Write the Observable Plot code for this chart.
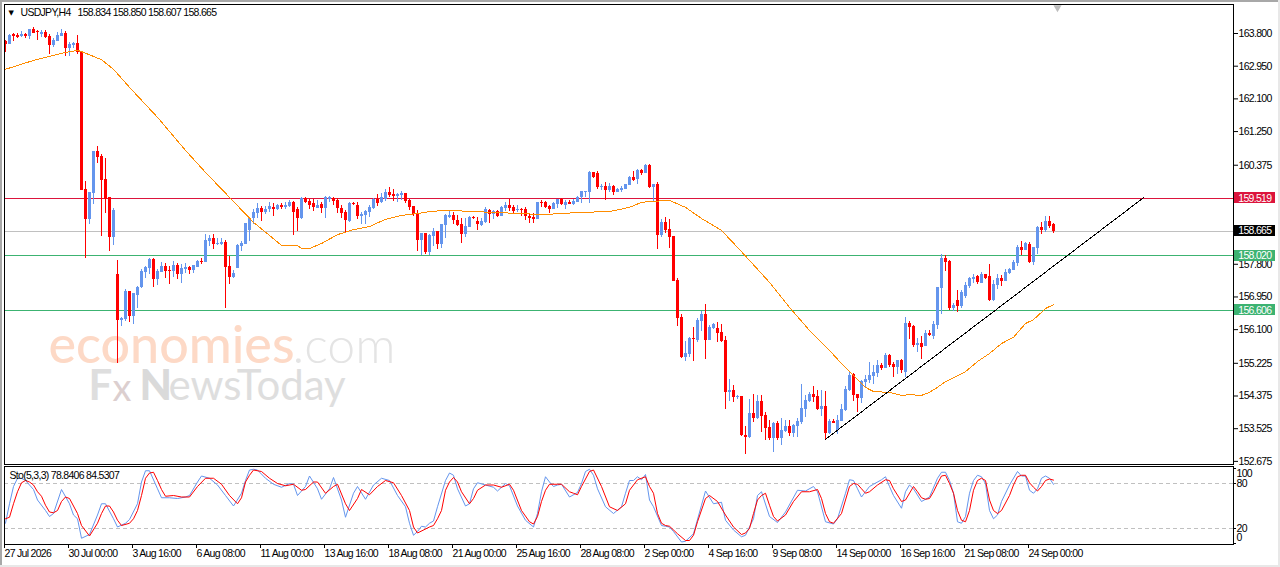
<!DOCTYPE html>
<html>
<head>
<meta charset="utf-8">
<script src="https://cdn.jsdelivr.net/npm/d3@7"></script>
<script src="https://cdn.jsdelivr.net/npm/@observablehq/plot@0.6"></script>
<style>
html,body{margin:0;padding:0;background:#fff;overflow:hidden}
#chart{position:relative;width:1280px;height:567px;background:#fff;overflow:hidden}
#chart svg{position:absolute;left:0;background:transparent;font-family:"Liberation Sans",sans-serif;font-size:10.5px;letter-spacing:-0.7px;color:#000}
#edgeL{position:absolute;left:0;top:0;width:2px;height:567px;background:#a8a8a8}
#edgeT{position:absolute;left:0;top:0;width:1280px;height:2px;background:#a8a8a8}
#edgeB{position:absolute;left:0;top:565px;width:1280px;height:2px;background:#e8e8e8}
#edgeR{position:absolute;left:1278px;top:0;width:2px;height:567px;background:#e8e8e8}
</style>
</head>
<body>
<div id="chart"><div id="edgeL"></div><div id="edgeT"></div><div id="edgeB"></div><div id="edgeR"></div></div>
<script>
const opens = [
163.59,163.51,163.77,163.75,163.72,163.77,163.72,163.90,163.85,163.77,
163.83,163.72,163.49,163.59,163.72,163.80,163.41,163.49,163.54,163.31,
159.75,158.97,159.64,160.73,160.60,160.00,159.54,158.50,157.53,156.34,
156.36,157.09,156.44,156.99,157.20,157.59,157.69,157.92,157.40,157.59,
157.74,157.64,157.61,157.77,157.53,157.66,157.72,157.64,157.72,157.87,
157.85,158.39,158.47,158.31,158.31,158.37,157.74,157.46,157.69,158.26,
158.31,158.68,158.99,159.12,159.25,159.15,159.23,159.28,159.23,159.33,
159.28,159.30,159.41,159.23,158.99,159.51,159.43,159.38,159.25,159.36,
159.25,159.48,159.51,159.46,159.25,159.15,158.91,159.38,159.33,159.04,
159.07,159.15,159.25,159.48,159.41,159.48,159.67,159.61,159.56,159.59,
159.64,159.46,159.30,159.09,158.42,158.60,158.11,158.52,158.65,158.31,
158.81,159.02,159.07,158.94,158.84,158.57,158.76,159.02,158.91,158.81,
158.89,159.20,159.09,159.17,159.04,159.25,159.33,159.28,159.20,159.23,
159.23,159.04,159.02,158.97,159.41,159.41,159.30,159.23,159.36,159.48,
159.33,159.41,159.36,159.41,159.54,159.67,159.67,160.18,160.16,159.80,
159.82,159.72,159.82,159.67,159.72,159.75,159.85,160.05,160.00,160.24,
160.16,160.37,159.80,159.87,158.55,158.89,158.71,158.52,157.38,156.42,
155.38,155.46,155.87,155.82,156.31,156.49,155.82,156.13,156.13,156.03,
155.82,154.47,154.52,154.34,154.36,153.35,153.30,153.92,153.79,154.23,
153.87,153.56,153.27,153.66,153.27,153.45,153.58,153.40,153.58,153.69,
154.02,154.23,154.41,154.36,154.02,154.10,153.40,153.71,153.48,153.71,
154.00,154.52,154.93,154.41,154.31,154.73,154.78,154.88,154.96,155.17,
155.09,155.43,155.19,155.12,155.30,154.99,156.26,156.18,155.69,155.74,
155.66,156.00,155.92,156.21,157.17,157.95,157.87,156.65,156.86,156.70,
156.96,157.22,157.40,157.48,157.30,157.53,157.48,156.86,157.25,157.43,
157.35,157.56,157.64,157.82,158.24,158.16,158.31,157.85,158.21,158.76,
158.68,158.91,158.834];
const highs = [
163.62,163.77,163.80,163.80,163.85,163.80,163.90,163.96,163.88,163.88,
163.88,163.77,163.67,163.83,163.90,163.85,163.57,163.57,163.75,163.33,
159.95,159.67,160.73,160.86,160.65,160.55,159.54,159.25,157.90,156.42,
157.14,157.09,157.04,157.22,157.66,157.74,157.95,157.95,157.66,157.85,
157.82,157.74,157.87,157.82,157.79,157.82,157.74,157.77,157.90,157.95,
158.57,158.55,158.57,158.47,158.47,158.42,158.00,157.64,158.31,158.39,
158.86,159.02,159.23,159.38,159.30,159.30,159.41,159.38,159.36,159.38,
159.41,159.46,159.43,159.28,159.54,159.54,159.48,159.48,159.46,159.41,
159.56,159.56,159.54,159.51,159.33,159.20,159.41,159.41,159.41,159.15,
159.20,159.33,159.51,159.61,159.64,159.75,159.80,159.75,159.64,159.69,
159.64,159.48,159.30,159.20,158.60,158.60,158.57,158.73,158.65,158.84,
159.09,159.17,159.15,159.07,158.99,158.99,159.04,159.04,159.02,158.99,
159.28,159.23,159.20,159.20,159.30,159.41,159.48,159.33,159.33,159.25,
159.28,159.09,159.12,159.41,159.46,159.43,159.33,159.41,159.48,159.51,
159.46,159.46,159.48,159.56,159.69,159.69,160.21,160.18,160.21,159.87,
159.93,159.90,159.85,159.77,159.82,159.87,160.08,160.21,160.26,160.26,
160.39,160.39,159.87,159.93,158.97,159.02,158.97,158.52,157.43,156.49,
155.79,155.90,156.16,156.39,156.57,156.75,156.21,156.26,156.29,156.23,
155.92,154.81,154.65,154.39,154.36,153.58,154.29,154.41,154.39,154.39,
153.95,153.74,153.69,153.71,153.79,153.74,153.74,153.64,153.79,154.67,
154.39,154.47,154.62,154.52,154.52,154.49,153.77,153.77,153.87,154.15,
154.62,155.01,154.96,154.41,154.78,154.91,155.25,155.17,155.30,155.22,
155.48,155.46,155.25,155.30,155.33,156.42,156.31,156.21,155.87,155.92,
156.08,156.08,156.31,157.20,158.05,158.03,157.90,156.78,157.12,157.12,
157.33,157.46,157.53,157.51,157.59,157.53,157.79,157.38,157.53,157.51,
157.66,157.69,157.90,158.29,158.39,158.37,158.37,158.24,158.78,158.89,
159.04,159.04,158.85];
const lows = [
163.31,163.51,163.59,163.67,163.70,163.67,163.64,163.80,163.62,163.70,
163.67,163.25,163.44,163.59,163.72,163.20,163.20,163.41,163.25,159.72,
157.95,158.84,159.36,160.42,158.52,159.12,158.13,158.29,155.22,156.18,
156.31,156.29,156.23,156.65,157.17,157.43,157.53,157.20,157.25,157.59,
157.43,157.27,157.46,157.40,157.30,157.56,157.53,157.56,157.72,157.79,
157.85,158.26,158.19,158.29,158.29,156.65,157.27,157.43,157.69,158.13,
158.31,158.39,158.84,158.99,158.91,159.09,159.15,159.04,159.20,159.23,
159.23,159.28,158.55,158.65,158.97,159.38,159.23,159.17,159.25,159.12,
158.99,159.41,159.33,159.12,158.99,158.60,158.89,159.33,158.97,158.84,
158.84,159.02,159.23,159.30,159.38,159.43,159.54,159.43,159.41,159.46,
159.38,159.20,159.04,158.13,158.03,158.05,158.03,158.26,158.19,158.21,
158.47,158.99,158.84,158.78,158.34,158.50,158.76,158.97,158.68,158.78,
158.86,158.86,158.97,159.02,159.04,159.17,159.17,159.12,159.15,159.04,
158.94,158.86,158.86,158.97,159.28,159.25,159.12,159.23,159.25,159.33,
159.23,159.36,159.33,159.41,159.38,159.54,159.38,160.03,159.75,159.72,
159.46,159.67,159.59,159.67,159.67,159.75,159.85,159.95,159.87,160.11,
160.16,159.77,159.41,158.19,158.50,158.60,158.21,157.35,156.18,155.35,
155.27,155.38,155.27,155.77,156.05,155.33,155.82,156.10,155.77,155.77,
154.02,154.23,154.21,154.29,153.32,152.86,153.27,153.69,153.77,153.43,
153.22,153.22,152.91,153.22,153.09,153.43,153.32,153.30,153.30,153.64,
153.82,154.21,154.21,154.00,153.84,153.24,153.37,153.66,153.37,153.71,
153.97,154.49,154.23,153.95,154.18,154.60,154.70,154.67,154.86,155.04,
155.09,155.12,154.86,154.93,154.96,154.86,155.84,155.64,155.51,155.33,
155.66,155.92,155.84,156.10,156.49,157.61,156.60,156.57,156.55,156.65,
156.91,157.17,157.30,157.27,157.30,157.40,156.83,156.83,157.14,157.22,
157.35,157.53,157.64,157.74,158.03,158.16,157.82,157.77,158.05,158.57,
158.63,158.73,158.607];
const closes = [
163.51,163.75,163.72,163.70,163.77,163.72,163.90,163.80,163.83,163.83,
163.70,163.49,163.62,163.75,163.80,163.41,163.51,163.54,163.31,159.72,
158.97,159.67,160.73,160.58,159.98,159.48,158.50,159.20,156.34,156.39,
157.09,156.44,157.04,157.20,157.61,157.72,157.92,157.40,157.61,157.74,
157.61,157.61,157.77,157.53,157.69,157.72,157.64,157.77,157.87,157.85,
158.42,158.47,158.31,158.34,158.37,157.72,157.46,157.56,158.29,158.34,
158.86,158.99,159.15,159.25,159.15,159.23,159.30,159.23,159.33,159.28,
159.33,159.41,159.15,158.99,159.51,159.41,159.33,159.28,159.33,159.25,
159.54,159.54,159.43,159.25,159.12,158.94,159.38,159.36,159.04,159.09,
159.17,159.28,159.48,159.38,159.54,159.67,159.59,159.56,159.61,159.64,
159.43,159.28,159.09,158.42,158.60,158.11,158.55,158.65,158.31,158.84,
159.07,159.07,158.94,158.81,158.57,158.78,159.02,158.99,158.84,158.91,
159.23,159.09,159.17,159.04,159.28,159.33,159.25,159.17,159.23,159.20,
159.04,158.99,158.97,159.41,159.38,159.28,159.23,159.38,159.48,159.36,
159.41,159.36,159.43,159.54,159.69,159.69,160.18,160.05,159.80,159.82,
159.72,159.82,159.67,159.75,159.77,159.87,160.05,159.98,160.24,160.16,
160.37,159.80,159.87,158.55,158.89,158.68,158.50,157.35,156.39,155.38,
155.48,155.87,155.84,156.34,156.49,155.82,156.16,156.23,156.00,155.79,
154.47,154.52,154.34,154.36,153.35,153.30,153.92,153.79,154.23,153.84,
153.53,153.27,153.66,153.27,153.48,153.58,153.40,153.61,153.71,154.05,
154.26,154.41,154.34,154.02,154.10,153.40,153.71,153.66,153.74,154.02,
154.55,154.91,154.39,154.31,154.75,154.81,154.91,154.99,155.17,155.09,
155.43,155.17,155.12,155.30,155.04,156.26,156.16,155.69,155.74,155.64,
156.00,155.95,156.23,157.20,157.95,157.85,156.65,156.73,156.70,157.07,
157.25,157.43,157.46,157.33,157.53,157.43,156.86,157.27,157.43,157.35,
157.59,157.66,157.85,158.24,158.16,158.34,157.85,158.24,158.76,158.68,
158.91,158.78,158.665];

const maBars = [0,7,15,18,19,24,27,31,38,45,50,56,62,66,69,73,74,76,79,83,87,91,95,99,103,106,110,118,121,129,134,144,151,156,159,161,166,170,174,179,183,186,191,196,201,206,209,212,215,217,221,224,226,229,231,233,235,240,243,246,249,252,255,257,259,260,262];
const maValues = [162.87,163.10,163.31,163.36,163.33,163.12,162.87,162.40,161.62,160.76,160.19,159.54,158.89,158.55,158.29,158.29,158.21,158.21,158.34,158.57,158.70,158.78,158.97,159.07,159.12,159.17,159.20,159.17,159.15,159.12,159.09,159.15,159.17,159.28,159.41,159.43,159.46,159.28,158.99,158.68,158.24,157.90,157.33,156.68,156.08,155.56,155.22,154.91,154.60,154.49,154.47,154.39,154.41,154.39,154.47,154.60,154.75,155.01,155.27,155.48,155.74,155.90,156.26,156.36,156.55,156.65,156.75];

const kBars = [0,1,2,3,4,5,7,8,10,11,12,14,16,17,18,19,21,23,24,25,27,28,30,31,33,34,35,36,38,39,41,43,45,46,48,49,51,53,55,57,59,60,61,62,63,65,67,69,71,72,73,75,76,78,79,81,82,84,85,87,88,90,92,94,96,98,100,101,102,103,104,105,106,
107,108,110,111,112,113,115,116,117,118,120,122,123,125,126,128,130,132,133,134,135,136,137,138,139,141,143,144,145,146,147,148,150,152,154,155,156,157,158,159,160,161,162,164,165,166,167,169,170,172,174,175,177,179,180,182,184,185,187,188,189,191,193,195,198,200,202,203,205,207,208,210,211,
212,213,214,215,216,217,219,220,221,222,224,225,226,227,229,231,233,234,235,236,237,238,239,240,241,242,243,244,245,246,247,248,249,251,253,254,255,256,257,258,259,260,261,262];
const kValues = [27,53,76,87,87,84,72,58,44,36,40,72,53,38,33,7,12,38,53,53,33,22,27,32,53,82,97,97,73,61,61,60,62,64,82,90,87,78,64,50,67,84,98,99,98,87,79,75,80,79,64,76,90,73,59,73,88,58,35,67,76,59,78,87,84,64,49,27,11,16,23,22,27,
30,49,84,94,91,73,50,53,73,81,78,75,70,80,77,50,31,22,40,69,89,82,76,78,79,62,68,80,96,99,91,73,49,40,49,67,84,84,89,85,92,58,49,24,23,22,16,2,3,13,51,70,53,55,31,18,9,11,33,64,69,36,28,42,71,70,76,69,29,26,33,67,85,
84,73,62,69,76,79,85,89,76,64,47,69,78,73,56,62,87,95,95,84,67,29,27,36,67,84,91,89,80,44,33,38,56,78,96,90,90,71,67,73,87,90,87,78.84];

const dBars = [0,1,2,3,4,5,6,7,8,9,10,11,12,13,14,15,16,18,19,21,23,24,25,26,27,28,29,31,32,33,34,35,36,37,38,39,40,42,44,46,48,50,52,54,56,58,59,60,61,62,64,66,68,70,72,74,75,77,78,80,82,83,85,86,88,89,91,93,95,97,99,101,102,103,106,
107,108,109,110,111,112,113,114,116,117,118,120,122,124,126,127,129,131,132,133,134,135,136,138,139,141,142,143,144,146,147,149,151,153,155,156,158,160,161,162,163,164,165,166,168,170,171,172,173,175,176,178,180,182,184,185,186,187,188,189,190,191,192,193,195,197,199,201,203,204,205,206,207,209,210,211,
212,213,214,215,216,218,220,221,222,224,225,227,228,229,230,231,232,233,234,235,236,237,238,239,240,241,242,243,244,245,246,247,248,249,251,252,253,254,255,256,257,258,259,260,261,262];
const dValues = [33,35,53,69,81,84,82,78,69,63,51,42,41,44,56,62,60,40,24,10,27,40,50,50,42,31,24,27,33,44,64,87,94,95,84,72,63,64,62,62,76,87,87,79,64,53,61,82,91,98,96,87,80,77,79,71,72,82,82,67,76,79,53,44,60,72,65,76,84,81,64,44,22,14,22,
24,33,44,71,82,88,82,69,53,60,71,78,78,75,79,71,44,29,26,36,56,71,79,79,79,69,67,65,76,96,98,76,49,44,53,71,85,89,76,67,40,27,24,23,13,4,4,11,29,60,64,56,38,22,12,14,20,40,58,64,67,51,36,30,38,56,69,69,72,60,40,29,27,40,58,76,
80,79,73,67,69,78,85,84,73,56,58,76,69,61,59,60,69,80,90,91,80,67,44,31,29,44,71,84,87,84,58,44,40,44,64,78,89,91,91,81,75,70,76,84,86,84.53];

const priceTicks = [163.8,162.95,162.1,161.25,160.375,157.8,156.95,156.1,155.225,154.375,153.525,152.675];
const tickBars = [0,16,32,48,64,80,96,112,128,144,160,176,192,208,224,240,256];
const tickLabels = ["27 Jul 2026","30 Jul 00:00","3 Aug 16:00","6 Aug 08:00","11 Aug 00:00","13 Aug 16:00","18 Aug 08:00","21 Aug 00:00","25 Aug 16:00","28 Aug 08:00","2 Sep 00:00","4 Sep 16:00","9 Sep 08:00","14 Sep 00:00","16 Sep 16:00","21 Sep 08:00","24 Sep 00:00"];
const levelPrices = [159.519,158.665,158.02,156.606];
const levelColors = ["#dc143c","#c0c0c0","#3cb371","#3cb371"];
const tagFills = ["#dc143c","#000000","#3cb371","#3cb371"];
const trendBars = [205,284.5];
const trendPrices = [153.25,159.53];
const stochLevels = [80,20];
const stochTicks = [100,80,20,0];

const bars = opens.map((o,i)=>({i,o,h:highs[i],l:lows[i],c:closes[i],col:closes[i]>=o?"#6495ed":"#ff0000"}));
const ma = maBars.map((i,k)=>({i,v:maValues[k]}));
const kLine = kBars.map((i,k)=>({i,v:kValues[k]}));
const dLine = dBars.map((i,k)=>({i,v:dValues[k]}));
const levels = levelPrices.map((p,k)=>({p,col:levelColors[k],fill:tagFills[k],txt:p.toFixed(3)}));
const trend = trendBars.map((i,k)=>({i,v:trendPrices[k]}));
const tagHalf = 0.14;
const xDomain = [-0.25,307];
const crisp = "crispEdges";

const main = Plot.plot({
  width:1280,height:465,marginLeft:4,marginRight:47,marginTop:4,marginBottom:1,
  x:{domain:xDomain,axis:null},
  y:{domain:[152.594,164.554],axis:null},
  style:{background:"transparent",overflow:"visible"},
  marks:[
    Plot.text(["economies"],{frameAnchor:"top-left",dx:44,dy:342,textAnchor:"start",fill:"#fdd9c6",fontFamily:"Lato",fontSize:52,fontWeight:500,lineAnchor:"middle"}),
    Plot.text([".com"],{frameAnchor:"top-left",dx:288,dy:342,textAnchor:"start",fill:"#e4e4e4",fontFamily:"Lato",fontSize:50,fontWeight:300,lineAnchor:"middle"}),
    Plot.text(["F"],{frameAnchor:"top-left",dx:84,dy:382,textAnchor:"start",fill:"#dedede",fontFamily:"Lato",fontSize:42,fontWeight:700,lineAnchor:"middle"}),
    Plot.text(["x"],{frameAnchor:"top-left",dx:108,dy:384,textAnchor:"start",fill:"#dccfcf",fontFamily:"Lato",fontSize:38,fontWeight:400,lineAnchor:"middle"}),
    Plot.text(["N"],{frameAnchor:"top-left",dx:135,dy:382,textAnchor:"start",fill:"#dadada",fontFamily:"Lato",fontSize:42,fontWeight:900,lineAnchor:"middle"}),
    Plot.text(["ewsToday"],{frameAnchor:"top-left",dx:164,dy:382,textAnchor:"start",fill:"#dedede",fontFamily:"Lato",fontSize:42,fontWeight:400,lineAnchor:"middle"}),
    Plot.ruleY(levels,{y:"p",stroke:"col",strokeWidth:1,shapeRendering:crisp}),
    Plot.ruleX(bars,{x:"i",y1:"l",y2:"h",stroke:"col",strokeWidth:1,shapeRendering:crisp}),
    Plot.ruleX(bars,{x:"i",y1:"o",y2:"c",stroke:"col",strokeWidth:3,shapeRendering:crisp}),
    Plot.line(ma,{x:"i",y:"v",stroke:"#ff8c00",strokeWidth:1,shapeRendering:crisp}),
    Plot.line(trend,{x:"i",y:"v",stroke:"#000",strokeWidth:1,shapeRendering:crisp}),
    Plot.frame({stroke:"#000"}),
    Plot.axisY({anchor:"right",ticks:priceTicks,tickFormat:d=>d.toFixed(3),tickSize:4,tickPadding:1,fontSize:10.5,label:null,textAnchor:"start"}),
    Plot.rect(levels,{x1:()=>307.25,x2:()=>317.5,y1:d=>d.p-tagHalf,y2:d=>d.p+tagHalf,fill:"fill",shapeRendering:crisp}),
    Plot.text(levels,{x:()=>308.2,y:"p",text:"txt",fill:"#fff",textAnchor:"start",fontSize:10.5}),
    Plot.text(["▼"],{frameAnchor:"top-left",dx:4,dy:8,textAnchor:"start",fill:"#000",fontFamily:"DejaVu Sans",fontSize:7,lineAnchor:"middle"}),
    Plot.text(["USDJPY,H4"],{frameAnchor:"top-left",dx:16,dy:8,textAnchor:"start",fill:"#000",fontSize:10.5,lineAnchor:"middle"}),
    Plot.text(["158.834 158.850 158.607 158.665"],{frameAnchor:"top-left",dx:73,dy:8,textAnchor:"start",fill:"#000",fontSize:10.5,lineAnchor:"middle"}),
    Plot.dot([{i:263}],{x:"i",frameAnchor:"top",dy:3,symbol:"triangle",r:3,rotate:180,fill:"#bdbdbd"})
  ]
});
main.style.top="0px";
d3.select(main).selectAll("text")
  .filter(function(){return /^(economies|\.com|F|x|N|ewsToday)$/.test(this.textContent);})
  .style("letter-spacing","0");

const stoch = Plot.plot({
  width:1280,height:100,marginLeft:4,marginRight:47,marginTop:1,marginBottom:21,
  x:{domain:xDomain,axis:null},
  y:{domain:[-1.33,102.67],axis:null},
  style:{background:"transparent",overflow:"visible"},
  marks:[
    Plot.ruleY(stochLevels,{stroke:"#c0c0c0",strokeDasharray:"4,3",strokeWidth:1,shapeRendering:crisp}),
    Plot.line(kLine,{x:"i",y:"v",stroke:"#6495ed",strokeWidth:1}),
    Plot.line(dLine,{x:"i",y:"v",stroke:"#ff0000",strokeWidth:1}),
    Plot.frame({stroke:"#000"}),
    Plot.axisX({anchor:"bottom",ticks:tickBars,tickFormat:(d)=>tickLabels[tickBars.indexOf(d)],tickSize:4,tickPadding:1,textAnchor:"start",dx:-1,fontSize:10.5,label:null}),
    Plot.axisY({anchor:"right",ticks:stochTicks,tickFormat:()=>"",tickSize:2,label:null}),
    Plot.text(["Sto(5,3,3) 78.8406 84.5307"],{frameAnchor:"top-left",dx:5,dy:9,textAnchor:"start",fill:"#000",fontSize:10.5,lineAnchor:"middle"}),
    Plot.text([100],{x:()=>307.75,y:d=>d,text:d=>String(d),dy:5,textAnchor:"start",fontSize:10.5}),
    Plot.text([80,20],{x:()=>307.75,y:d=>d,text:d=>String(d),textAnchor:"start",fontSize:10.5}),
    Plot.text([0],{x:()=>307.75,y:d=>d,text:d=>String(d),dy:-6,textAnchor:"start",fontSize:10.5})
  ]
});
stoch.style.top="465px";

document.getElementById("chart").append(main,stoch);
</script>
</body>
</html>
